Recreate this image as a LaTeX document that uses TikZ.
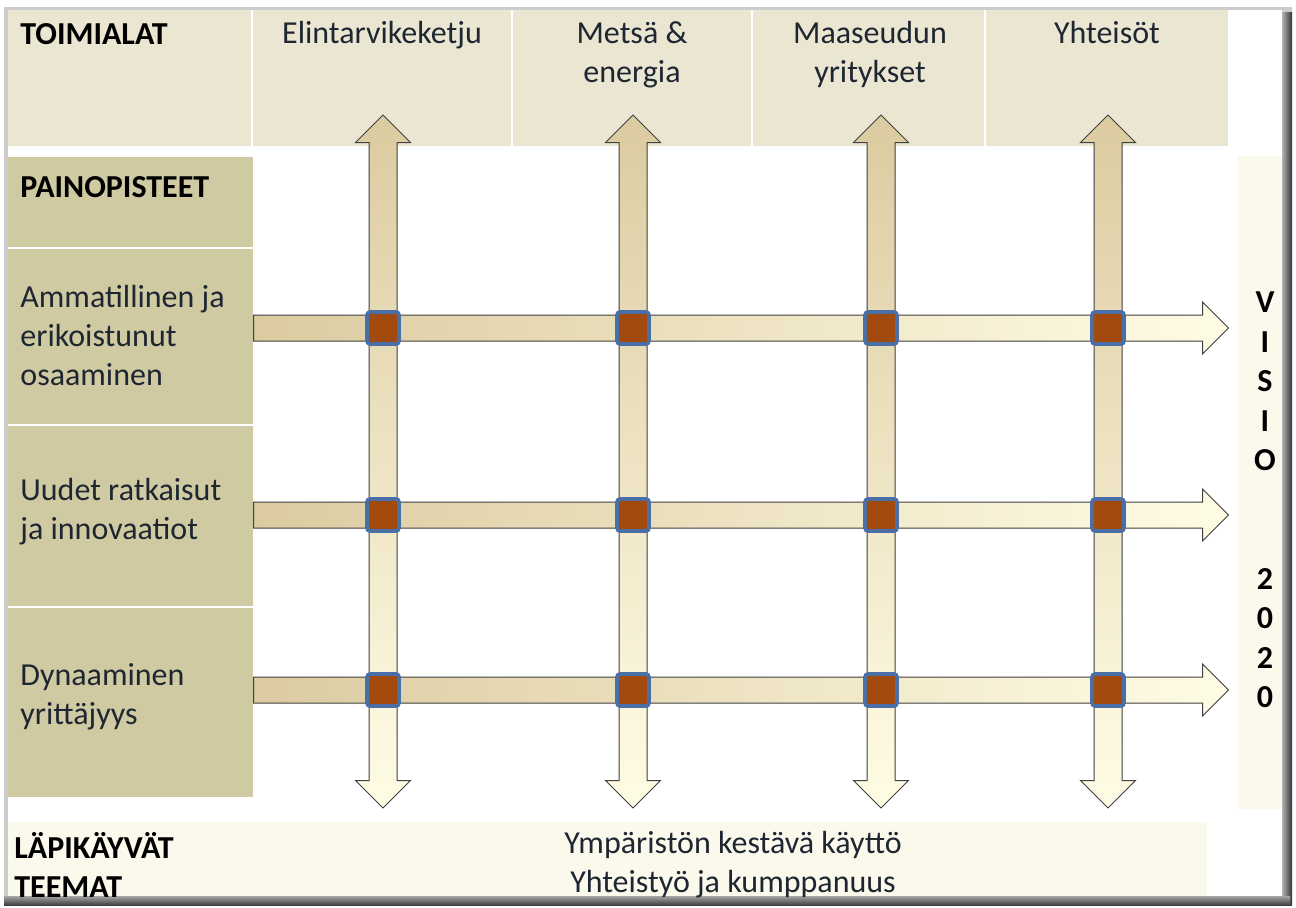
\documentclass[tikz,border=0pt]{standalone}
\usepackage{fontspec}
\setmainfont{Carlito}
\usetikzlibrary{positioning,shapes.arrows}

\definecolor{headbg}{HTML}{EBE6D2}
\definecolor{sidebg}{HTML}{D0CAA3}
\definecolor{palebg}{HTML}{FBF8EC}
\definecolor{arrdark}{HTML}{DCCBA0}
\definecolor{arrlight}{HTML}{FFFCE5}
\definecolor{knotfill}{HTML}{A34A0E}
\definecolor{knotrim}{HTML}{4A6FA6}
\definecolor{ink}{HTML}{1E2631}

\tikzset{
  txt/.style={font=\fontsize{16}{19.5}\selectfont, text=ink, inner sep=0pt},
  boldtxt/.style={txt, font=\fontsize{16}{19.5}\selectfont\bfseries, text=black},
  uparr/.style={double arrow, draw=black!75, line width=0.5pt, inner xsep=0pt, inner ysep=6.75pt,
    double arrow head extend=6.75pt, minimum height=346.5pt, rotate=90,
    top color=arrdark, bottom color=arrlight},
  rightarr/.style={single arrow, draw=black!75, line width=0.5pt, inner xsep=0pt, inner ysep=6.25pt,
    single arrow head extend=6.5pt, minimum height=487.5pt, anchor=tail,
    left color=arrdark, right color=arrlight},
  knot/.style={draw=knotrim, line width=1.8pt, fill=knotfill, rounded corners=1.5pt,
    minimum size=16pt, inner sep=0pt}
}

\begin{document}
\begin{tikzpicture}[x=0.5pt,y=-0.5pt]
  \useasboundingbox (0,0) rectangle (1296,907);
  % frame
  \fill[black!20] (4,7) rectangle (1292,905);
  \shade[left color=black!30, right color=black!80] (1282,12) rectangle (1292,905);
  \shade[top color=black!35, bottom color=black!75] (4,896) rectangle (1290,905);
  \fill[white] (8,10) rectangle (1282,896);
  % cells
  \fill[headbg] (8,10) rectangle (251,146);
  \fill[headbg] (253,10) rectangle (511,146);
  \fill[headbg] (513,10) rectangle (751,146);
  \fill[headbg] (753,10) rectangle (984,146);
  \fill[headbg] (986,10) rectangle (1228,146);
  \fill[sidebg] (8,157) rectangle (253,247);
  \fill[sidebg] (8,249) rectangle (253,424);
  \fill[sidebg] (8,426) rectangle (253,606);
  \fill[sidebg] (8,608) rectangle (253,797);
  \fill[palebg] (1238,156) rectangle (1282,809);
  \fill[palebg] (8,822) rectangle (1207,896);

  \node[boldtxt, anchor=north west] (toimialat) at (20,23) {TOIMIALAT};
  \node[txt, anchor=north] (elin) at (382,21) {Elintarvikeketju};
  \node[txt, anchor=north, align=center] (metsa) at (632,21) {Metsä \&\\energia};
  \node[txt, anchor=north, align=center] (maaseutu) at (870,21) {Maaseudun\\yritykset};
  \node[txt, anchor=north] (yhteisot) at (1107,21) {Yhteisöt};

  \node[boldtxt, anchor=north west] (painop) at (20,176) {PAINOPISTEET};
  \node[txt, anchor=west, align=left] (ammat) at (20,335) {Ammatillinen ja\\erikoistunut\\osaaminen};
  \node[txt, anchor=west, align=left] (uudet) at (20,512) {Uudet ratkaisut\\ja innovaatiot};
  \node[txt, anchor=west, align=left] (dynaam) at (20,697) {Dynaaminen\\yrittäjyys};

  \node[boldtxt, align=center, font=\fontsize{16}{19.75}\selectfont\bfseries] (visio) at (1265,500)
    {V\\I\\S\\I\\O\\~\\~\\2\\0\\2\\0};

  \node[boldtxt, anchor=west, align=left] (teemat) at (14,865) {LÄPIKÄYVÄT\\TEEMAT};
  \node[txt, align=center] (themes) at (733,865) {Ympäristön kestävä käyttö\\Yhteistyö ja kumppanuus};

  % arrows
  \node[uparr] (elinarr) at (383,461.5) {};
  \node[uparr] (metsaarr) at (633,461.5) {};
  \node[uparr] (maaarr) at (881,461.5) {};
  \node[uparr] (yhtarr) at (1108,461.5) {};
  \node[rightarr] (ammarr) at (253,328) {};
  \node[rightarr] (uudarr) at (253,515) {};
  \node[rightarr] (dynarr) at (253,690) {};

  % knots
  \node[knot] (k11) at (elinarr |- ammarr) {};
  \node[knot] (k12) at (metsaarr |- ammarr) {};
  \node[knot] (k13) at (maaarr |- ammarr) {};
  \node[knot] (k14) at (yhtarr |- ammarr) {};
  \node[knot] (k21) at (elinarr |- uudarr) {};
  \node[knot] (k22) at (metsaarr |- uudarr) {};
  \node[knot] (k23) at (maaarr |- uudarr) {};
  \node[knot] (k24) at (yhtarr |- uudarr) {};
  \node[knot] (k31) at (elinarr |- dynarr) {};
  \node[knot] (k32) at (metsaarr |- dynarr) {};
  \node[knot] (k33) at (maaarr |- dynarr) {};
  \node[knot] (k34) at (yhtarr |- dynarr) {};
\end{tikzpicture}
\end{document}
